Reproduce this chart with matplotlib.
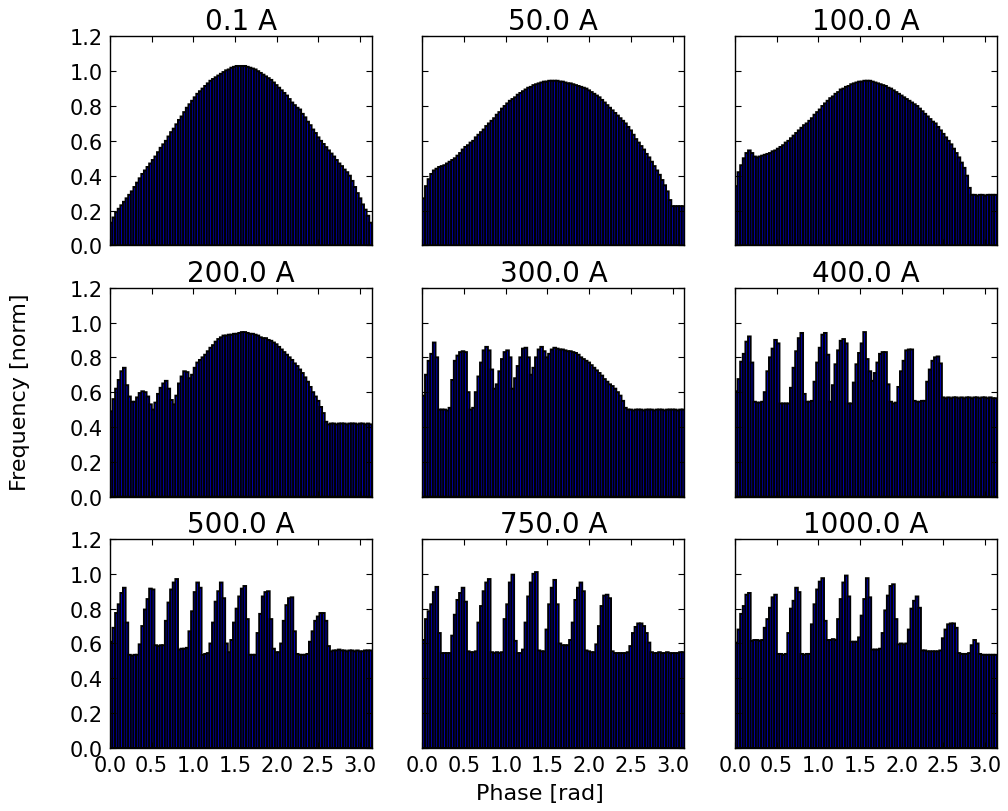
import numpy as np
import matplotlib
matplotlib.use("Agg")
import matplotlib.pyplot as plt

# histogram heights per current (100 phase bins over 0..pi)
currents = [0.1, 50.0, 100.0, 200.0, 300.0, 400.0, 500.0, 750.0, 1000.0]

freq_0p1 = [
    0.13, 0.16, 0.19, 0.21, 0.23, 0.25, 0.27, 0.29, 0.31, 0.335,
    0.36, 0.385, 0.41, 0.43, 0.45, 0.47, 0.49, 0.51, 0.535, 0.56,
    0.58, 0.60, 0.625, 0.65, 0.67, 0.695, 0.72, 0.74, 0.765, 0.79,
    0.81, 0.83, 0.85, 0.87, 0.885, 0.90, 0.915, 0.93, 0.945, 0.955,
    0.965, 0.975, 0.985, 0.995, 1.005, 1.01, 1.02, 1.025, 1.03, 1.03,
    1.03, 1.03, 1.025, 1.02, 1.015, 1.01, 1.00, 0.99, 0.98, 0.97,
    0.96, 0.95, 0.935, 0.92, 0.905, 0.89, 0.875, 0.86, 0.84, 0.82,
    0.805, 0.79, 0.78, 0.755, 0.735, 0.71, 0.69, 0.665, 0.645, 0.62,
    0.60, 0.582, 0.564, 0.545, 0.527, 0.51, 0.49, 0.47, 0.455, 0.435,
    0.42, 0.40, 0.37, 0.335, 0.30, 0.27, 0.235, 0.205, 0.17, 0.13]

freq_50 = [
    0.27, 0.34, 0.38, 0.41, 0.43, 0.44, 0.45, 0.455, 0.46, 0.47,
    0.48, 0.49, 0.50, 0.515, 0.53, 0.55, 0.565, 0.575, 0.59, 0.60,
    0.62, 0.635, 0.65, 0.665, 0.685, 0.70, 0.715, 0.73, 0.75, 0.765,
    0.785, 0.80, 0.815, 0.83, 0.84, 0.85, 0.865, 0.875, 0.885, 0.895,
    0.905, 0.91, 0.92, 0.925, 0.93, 0.935, 0.94, 0.94, 0.945, 0.945,
    0.945, 0.945, 0.94, 0.94, 0.935, 0.93, 0.93, 0.925, 0.92, 0.915,
    0.91, 0.905, 0.90, 0.89, 0.88, 0.87, 0.86, 0.85, 0.835, 0.82,
    0.805, 0.79, 0.775, 0.76, 0.745, 0.73, 0.715, 0.70, 0.68, 0.66,
    0.635, 0.61, 0.59, 0.57, 0.55, 0.525, 0.505, 0.48, 0.455, 0.43,
    0.405, 0.375, 0.345, 0.31, 0.26, 0.225, 0.225, 0.225, 0.225, 0.225]

freq_100 = [
    0.34, 0.42, 0.46, 0.50, 0.53, 0.545, 0.53, 0.51, 0.505, 0.51,
    0.515, 0.52, 0.525, 0.53, 0.54, 0.545, 0.555, 0.565, 0.575, 0.59,
    0.60, 0.615, 0.63, 0.645, 0.66, 0.675, 0.69, 0.70, 0.715, 0.73,
    0.75, 0.765, 0.78, 0.80, 0.815, 0.83, 0.845, 0.855, 0.87, 0.88,
    0.895, 0.90, 0.91, 0.915, 0.925, 0.93, 0.935, 0.94, 0.94, 0.945,
    0.945, 0.945, 0.94, 0.935, 0.93, 0.925, 0.92, 0.915, 0.905, 0.90,
    0.89, 0.88, 0.87, 0.86, 0.85, 0.84, 0.83, 0.82, 0.81, 0.80,
    0.785, 0.77, 0.755, 0.74, 0.725, 0.71, 0.70, 0.68, 0.66, 0.64,
    0.62, 0.60, 0.58, 0.555, 0.53, 0.505, 0.475, 0.445, 0.40, 0.33,
    0.29, 0.29, 0.285, 0.29, 0.29, 0.285, 0.29, 0.29, 0.29, 0.29]

freq_200 = [
    0.49, 0.56, 0.62, 0.67, 0.72, 0.74, 0.64, 0.575, 0.545, 0.545,
    0.57, 0.595, 0.605, 0.60, 0.575, 0.53, 0.50, 0.54, 0.59, 0.625,
    0.65, 0.665, 0.62, 0.555, 0.53, 0.58, 0.65, 0.69, 0.72, 0.715,
    0.68, 0.70, 0.74, 0.77, 0.785, 0.80, 0.815, 0.835, 0.855, 0.87,
    0.89, 0.905, 0.915, 0.925, 0.925, 0.93, 0.93, 0.935, 0.935, 0.94,
    0.945, 0.945, 0.94, 0.935, 0.935, 0.93, 0.925, 0.915, 0.91, 0.91,
    0.90, 0.895, 0.885, 0.875, 0.86, 0.845, 0.83, 0.815, 0.80, 0.785,
    0.765, 0.75, 0.73, 0.71, 0.685, 0.66, 0.63, 0.60, 0.575, 0.55,
    0.515, 0.48, 0.43, 0.415, 0.42, 0.42, 0.415, 0.42, 0.42, 0.42,
    0.415, 0.42, 0.42, 0.42, 0.415, 0.42, 0.42, 0.415, 0.42, 0.415]

freq_300 = [
    0.58, 0.70, 0.78, 0.82, 0.885, 0.80, 0.50, 0.50, 0.50, 0.495,
    0.51, 0.67, 0.78, 0.81, 0.83, 0.835, 0.83, 0.60, 0.50, 0.51,
    0.60, 0.69, 0.77, 0.84, 0.86, 0.84, 0.73, 0.62, 0.645, 0.72,
    0.79, 0.83, 0.84, 0.80, 0.62, 0.68, 0.75, 0.80, 0.85, 0.855,
    0.80, 0.70, 0.74, 0.80, 0.845, 0.86, 0.835, 0.80, 0.82, 0.845,
    0.855, 0.85, 0.845, 0.845, 0.84, 0.835, 0.835, 0.83, 0.825, 0.815,
    0.80, 0.79, 0.78, 0.77, 0.755, 0.74, 0.725, 0.71, 0.695, 0.675,
    0.66, 0.645, 0.635, 0.62, 0.60, 0.58, 0.55, 0.51, 0.50, 0.50,
    0.495, 0.50, 0.50, 0.50, 0.495, 0.50, 0.50, 0.50, 0.495, 0.50,
    0.50, 0.50, 0.495, 0.50, 0.50, 0.50, 0.50, 0.495, 0.50, 0.50]

freq_400 = [
    0.605, 0.675, 0.775, 0.82, 0.89, 0.92, 0.77, 0.545, 0.54, 0.54,
    0.545, 0.60, 0.72, 0.80, 0.85, 0.90, 0.88, 0.535, 0.535, 0.535,
    0.535, 0.625, 0.74, 0.835, 0.91, 0.94, 0.59, 0.545, 0.545, 0.55,
    0.66, 0.77, 0.855, 0.93, 0.94, 0.815, 0.545, 0.64, 0.76, 0.84,
    0.895, 0.905, 0.88, 0.535, 0.535, 0.655, 0.76, 0.825, 0.88, 0.945,
    0.79, 0.72, 0.665, 0.71, 0.77, 0.82, 0.83, 0.83, 0.645, 0.545,
    0.535, 0.54, 0.63, 0.72, 0.78, 0.84, 0.845, 0.845, 0.55, 0.545,
    0.545, 0.55, 0.55, 0.66, 0.73, 0.78, 0.80, 0.805, 0.765, 0.57,
    0.565, 0.57, 0.565, 0.57, 0.57, 0.565, 0.57, 0.565, 0.57, 0.57,
    0.565, 0.57, 0.57, 0.565, 0.57, 0.57, 0.565, 0.57, 0.565, 0.565]

freq_500 = [
    0.61, 0.69, 0.775, 0.825, 0.89, 0.92, 0.72, 0.535, 0.53, 0.535,
    0.535, 0.595, 0.70, 0.795, 0.855, 0.915, 0.91, 0.59, 0.585, 0.59,
    0.59, 0.73, 0.835, 0.91, 0.95, 0.97, 0.565, 0.57, 0.57, 0.575,
    0.67, 0.785, 0.895, 0.95, 0.92, 0.535, 0.54, 0.545, 0.60, 0.72,
    0.84, 0.90, 0.95, 0.86, 0.60, 0.55, 0.62, 0.72, 0.80, 0.87,
    0.915, 0.93, 0.74, 0.535, 0.535, 0.535, 0.66, 0.77, 0.87, 0.895,
    0.90, 0.74, 0.57, 0.55, 0.55, 0.60, 0.73, 0.82, 0.86, 0.865,
    0.67, 0.54, 0.535, 0.535, 0.535, 0.54, 0.61, 0.67, 0.73, 0.755,
    0.775, 0.775, 0.73, 0.585, 0.555, 0.56, 0.56, 0.565, 0.56, 0.56,
    0.555, 0.56, 0.56, 0.555, 0.56, 0.555, 0.555, 0.56, 0.56, 0.56]

freq_750 = [
    0.62, 0.74, 0.785, 0.825, 0.895, 0.925, 0.66, 0.545, 0.545, 0.545,
    0.545, 0.645, 0.765, 0.85, 0.89, 0.92, 0.84, 0.555, 0.55, 0.55,
    0.555, 0.72, 0.815, 0.90, 0.95, 0.97, 0.55, 0.545, 0.55, 0.545,
    0.55, 0.74, 0.825, 0.95, 0.995, 0.615, 0.545, 0.545, 0.565, 0.72,
    0.87, 0.95, 1.00, 1.01, 0.56, 0.555, 0.555, 0.68, 0.825, 0.92,
    0.965, 0.825, 0.60, 0.59, 0.59, 0.59, 0.62, 0.72, 0.85, 0.92,
    0.95, 0.90, 0.56, 0.555, 0.55, 0.55, 0.595, 0.70, 0.815, 0.875,
    0.88, 0.86, 0.555, 0.545, 0.545, 0.545, 0.545, 0.545, 0.55, 0.585,
    0.66, 0.695, 0.715, 0.715, 0.70, 0.66, 0.605, 0.55, 0.545, 0.545,
    0.55, 0.545, 0.545, 0.55, 0.545, 0.545, 0.545, 0.545, 0.55, 0.55]

freq_1000 = [
    0.605, 0.68, 0.77, 0.815, 0.88, 0.89, 0.615, 0.62, 0.62, 0.615,
    0.62, 0.69, 0.74, 0.805, 0.865, 0.88, 0.54, 0.54, 0.535, 0.54,
    0.66, 0.80, 0.845, 0.92, 0.895, 0.54, 0.535, 0.54, 0.54, 0.71,
    0.825, 0.91, 0.955, 0.975, 0.73, 0.62, 0.62, 0.625, 0.62, 0.74,
    0.855, 0.95, 0.99, 0.87, 0.61, 0.61, 0.61, 0.635, 0.76, 0.855,
    0.975, 0.865, 0.565, 0.565, 0.565, 0.57, 0.66, 0.79, 0.875, 0.93,
    0.94, 0.74, 0.595, 0.60, 0.595, 0.60, 0.68, 0.80, 0.845, 0.87,
    0.805, 0.56, 0.56, 0.555, 0.555, 0.555, 0.555, 0.555, 0.56, 0.63,
    0.68, 0.71, 0.715, 0.715, 0.69, 0.545, 0.54, 0.54, 0.54, 0.545,
    0.59, 0.62, 0.60, 0.54, 0.535, 0.535, 0.535, 0.535, 0.535, 0.535]

all_freqs = [freq_0p1, freq_50, freq_100, freq_200, freq_300,
             freq_400, freq_500, freq_750, freq_1000]

n_bins = 100
edges = np.linspace(0.0, np.pi, n_bins + 1)

plt.rcParams.update({
    "font.family": "DejaVu Sans",
    "xtick.direction": "in",
    "ytick.direction": "in",
    "xtick.top": True,
    "ytick.right": True,
    "xtick.major.size": 4,
    "ytick.major.size": 4,
    "xtick.major.pad": 5,
    "ytick.major.pad": 5,
})

fig, axes = plt.subplots(3, 3, figsize=(10.08, 8.12), dpi=100,
                         sharex=True, sharey=True)
fig.subplots_adjust(left=0.109, right=0.989, top=0.954, bottom=0.0776,
                    wspace=0.193, hspace=0.2025)

for ax, cur, vals in zip(axes.flat, currents, all_freqs):
    bars = ax.bar(edges[:-1], vals, width=np.diff(edges), align="edge",
                  facecolor="b", edgecolor="k", linewidth=1.4)
    for b in bars:
        b.set_snap(False)
    ax.set_title(f"{cur:.1f} A", fontsize=20, pad=5)
    ax.set_xlim(0, np.pi)
    ax.set_ylim(0, 1.2)
    ax.set_xticks(np.arange(0, 3.01, 0.5))
    ax.set_yticks(np.arange(0, 1.21, 0.2))
    ax.tick_params(labelsize=15)
    for sp in ax.spines.values():
        sp.set_linewidth(1.0)

for ax in axes[-1]:
    ax.set_xticklabels([f"{t:.1f}" for t in np.arange(0, 3.01, 0.5)])
for ax in axes[:, 0]:
    ax.set_yticklabels([f"{t:.1f}" for t in np.arange(0, 1.21, 0.2)])

fig.text(0.536, 0.022, "Phase [rad]", fontsize=16, ha="center", va="center")
fig.text(0.02, 0.517, "Frequency [norm]", fontsize=16, ha="center",
         va="center", rotation=90)

fig.savefig("out.png", dpi=100)
